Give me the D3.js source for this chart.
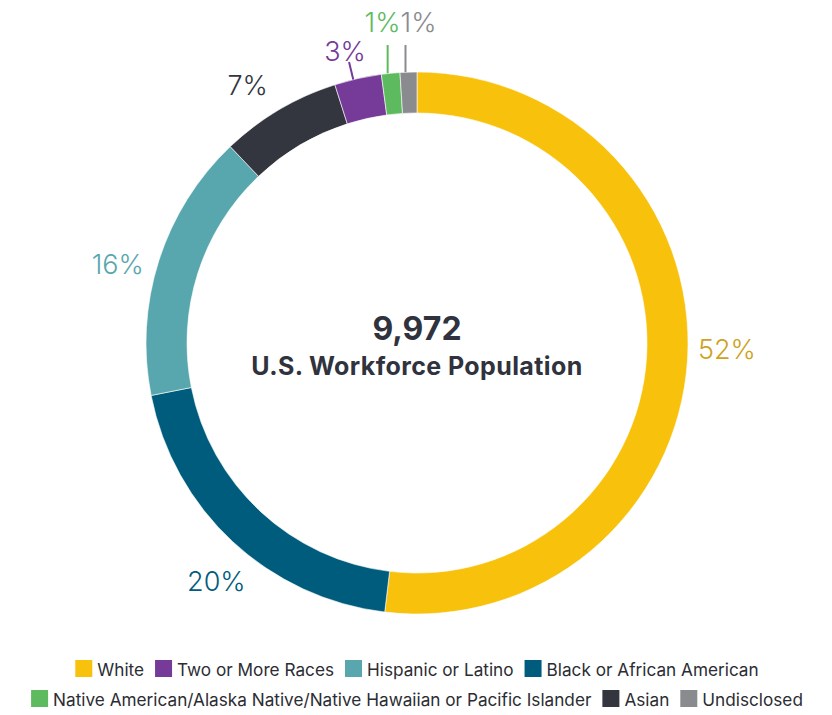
<!DOCTYPE html>
<html>
<head>
<meta charset="utf-8">
<script src="https://cdn.jsdelivr.net/npm/d3@7"></script>
<style>
  html, body { margin: 0; padding: 0; background: #ffffff; }
  svg { display: block; }
</style>
</head>
<body>
<svg id="chart" width="832" height="715"></svg>
<script>
// ---- data ----
const categories = [
  "White",
  "Black or African American",
  "Hispanic or Latino",
  "Asian",
  "Two or More Races",
  "Native American/Alaska Native/Native Hawaiian or Pacific Islander",
  "Undisclosed"
];
const shares = [51.9, 20.0, 16.0, 7.2, 2.8, 1.1, 1.0];
const shareLabels = ["52%", "20%", "16%", "7%", "3%", "1%", "1%"];
const sliceColors = ["#F7C10C", "#005C7D", "#59A7AE", "#33353F", "#763A99", "#5DBA5F", "#898B8F"];
const labelColors = ["#CFA21C", "#005C7D", "#59A7AE", "#33353F", "#763A99", "#5DBA5F", "#898B8F"];
const legendOrder = [
  "White",
  "Two or More Races",
  "Hispanic or Latino",
  "Black or African American",
  "Native American/Alaska Native/Native Hawaiian or Pacific Islander",
  "Asian",
  "Undisclosed"
];
const totalText = "9,972";
const totalCaption = "U.S. Workforce Population";

// ---- layout ----
const W = 832, H = 715;
const cx = 417, cy = 343;
const outerR = 271, innerR = 230;
const FONT = "Inter, 'Noto Sans', sans-serif";

const svg = d3.select("#chart");
const color = d3.scaleOrdinal().domain(categories).range(sliceColors);
const lcolor = d3.scaleOrdinal().domain(categories).range(labelColors);

const data = categories.map((c, i) => ({ cat: c, value: shares[i], label: shareLabels[i] }));
const pie = d3.pie().sort(null).value(d => d.value).startAngle(0).endAngle(2 * Math.PI);
const arcs = pie(data);
const arc = d3.arc().innerRadius(innerR).outerRadius(outerR);

const g = svg.append("g").attr("transform", `translate(${cx},${cy})`);

g.selectAll("path.slice")
  .data(arcs)
  .join("path")
  .attr("class", "slice")
  .attr("d", arc)
  .attr("fill", d => color(d.data.cat))
  .attr("stroke", "#ffffff")
  .attr("stroke-width", 0.6);

// ---- labels ----
const polar = (a, r) => [r * Math.sin(a), -r * Math.cos(a)];
const shift = -2.5 * Math.PI / 180;

// big slices: plain labels outside the ring
arcs.filter(d => d.data.value >= 5).forEach(d => {
  const mid = (d.startAngle + d.endAngle) / 2 + shift;
  const [x, y] = polar(mid, 310);
  g.append("text")
    .attr("x", x).attr("y", y + 2)
    .attr("text-anchor", "middle")
    .attr("dominant-baseline", "central")
    .attr("font-family", FONT)
    .attr("font-weight", 300)
    .attr("font-size", 27)
    .attr("fill", lcolor(d.data.cat))
    .text(d.data.label);
});

// medium-small slices: short radial leader
arcs.filter(d => d.data.value < 5 && d.data.value >= 1.5).forEach(d => {
  const mid = (d.startAngle + d.endAngle) / 2 - 1 * Math.PI / 180;
  const [x0, y0] = polar(mid, outerR);
  const [x1, y1] = polar(mid, outerR + 18);
  g.append("line")
    .attr("x1", x0).attr("y1", y0).attr("x2", x1).attr("y2", y1)
    .attr("stroke", color(d.data.cat)).attr("stroke-width", 2);
  g.append("text")
    .attr("x", x1 - 4).attr("y", y1 - 1)
    .attr("text-anchor", "middle")
    .attr("font-family", FONT)
    .attr("font-weight", 300)
    .attr("font-size", 27)
    .attr("fill", lcolor(d.data.cat))
    .text(d.data.label);
});

// tiny slices: vertical leaders, labels spread apart
const tiny = arcs.filter(d => d.data.value < 1.5);
const tinyX = tiny.map(d => polar((d.startAngle + d.endAngle) / 2, outerR)[0]);
const meanX = d3.mean(tinyX);
const spread = 36;
tiny.forEach((d, i) => {
  const mid = (d.startAngle + d.endAngle) / 2;
  const [x0, y0] = polar(mid, outerR);
  const topY = 45 - cy;
  g.append("line")
    .attr("x1", x0 - 3).attr("y1", y0).attr("x2", x0 - 3).attr("y2", topY)
    .attr("stroke", color(d.data.cat)).attr("stroke-width", 2);
  const lx = meanX + 1 + (i - (tiny.length - 1) / 2) * spread;
  g.append("text")
    .attr("x", lx).attr("y", 32 - cy)
    .attr("text-anchor", "middle")
    .attr("font-family", FONT)
    .attr("font-weight", 300)
    .attr("font-size", 27)
    .attr("fill", lcolor(d.data.cat))
    .text(d.data.label);
});

// ---- centre text ----
g.append("text")
  .attr("x", 0).attr("y", 340 - cy)
  .attr("text-anchor", "middle")
  .attr("font-family", FONT)
  .attr("font-weight", 700)
  .attr("font-size", 32)
  .attr("fill", "#30323D")
  .text(totalText);
g.append("text")
  .attr("x", 0).attr("y", 375 - cy)
  .attr("text-anchor", "middle")
  .attr("font-family", FONT)
  .attr("font-weight", 700)
  .attr("font-size", 25)
  .attr("letter-spacing", 0.4)
  .attr("fill", "#30323D")
  .text(totalCaption);

// ---- legend (flow layout, centred rows) ----
const legendFont = 17.2, sw = 17, textGap = 5, itemGap = 11, maxRow = 800;
const legend = svg.append("g");
const items = legendOrder.map(c => {
  const t = legend.append("text")
    .attr("font-family", FONT).attr("font-size", legendFont)
    .attr("fill", "#2B2D33").text(c);
  const w = t.node().getComputedTextLength();
  return { cat: c, t, w: sw + textGap + w };
});
const rows = [[]];
let rowW = 0;
items.forEach(it => {
  const add = (rows[rows.length - 1].length ? itemGap : 0) + it.w;
  if (rowW + add > maxRow && rows[rows.length - 1].length) {
    rows.push([it]); rowW = it.w;
  } else {
    rows[rows.length - 1].push(it); rowW += add;
  }
});
rows.forEach((row, ri) => {
  const total = d3.sum(row, r => r.w) + itemGap * (row.length - 1);
  let x = cx - total / 2;
  const base = 676 + ri * 30;
  row.forEach(it => {
    legend.append("rect")
      .attr("x", x).attr("y", base - 16)
      .attr("width", sw).attr("height", sw)
      .attr("fill", color(it.cat));
    it.t.attr("x", x + sw + textGap).attr("y", base);
    x += it.w + itemGap;
  });
});
</script>
</body>
</html>
